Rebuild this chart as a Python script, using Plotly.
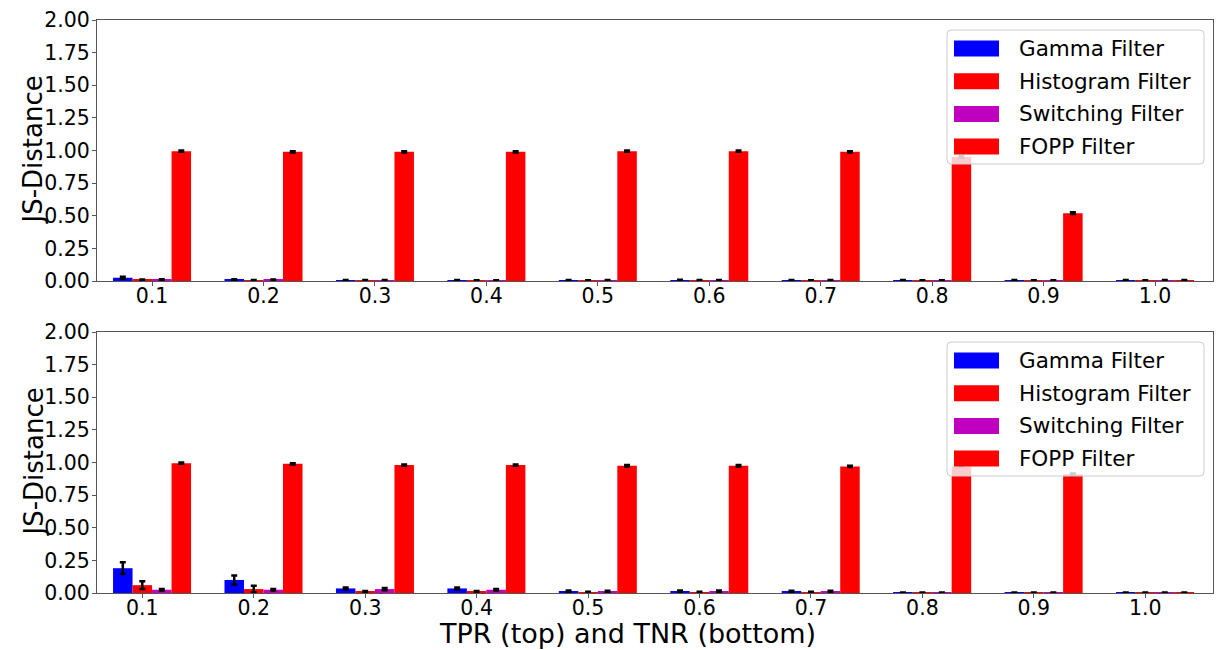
import plotly.graph_objects as go

# ---------------- data ----------------
rates = ["0.1", "0.2", "0.3", "0.4", "0.5", "0.6", "0.7", "0.8", "0.9", "1.0"]
series_names = ["Gamma Filter", "Histogram Filter", "Switching Filter", "FOPP Filter"]
series_colors = ["#0000ff", "#ff0000", "#bf00bf", "#ff0000"]

# top panel (TPR)
gamma_top = [0.025, 0.010, 0.005, 0.005, 0.005, 0.007, 0.005, 0.005, 0.005, 0.004]
gamma_top_err = [0.008, 0.004, 0.003, 0.003, 0.003, 0.003, 0.003, 0.003, 0.003, 0.003]
hist_top = [0.008, 0.005, 0.004, 0.003, 0.003, 0.004, 0.003, 0.003, 0.003, 0.003]
hist_top_err = [0.004, 0.003, 0.003, 0.003, 0.003, 0.003, 0.003, 0.003, 0.003, 0.003]
switch_top = [0.010, 0.008, 0.004, 0.003, 0.004, 0.005, 0.004, 0.003, 0.003, 0.004]
switch_top_err = [0.004, 0.004, 0.003, 0.003, 0.003, 0.003, 0.003, 0.003, 0.003, 0.003]
fopp_top = [0.995, 0.990, 0.990, 0.990, 0.995, 0.995, 0.990, 0.950, 0.520, 0.005]
fopp_top_err = [0.005, 0.005, 0.005, 0.005, 0.005, 0.005, 0.005, 0.005, 0.006, 0.003]

# bottom panel (TNR)
gamma_bot = [0.190, 0.100, 0.035, 0.035, 0.015, 0.015, 0.012, 0.002, 0.002, 0.002]
gamma_bot_err = [0.045, 0.035, 0.008, 0.008, 0.005, 0.005, 0.005, 0.002, 0.002, 0.002]
hist_bot = [0.060, 0.030, 0.010, 0.010, 0.005, 0.005, 0.005, 0.002, 0.002, 0.002]
hist_bot_err = [0.030, 0.025, 0.005, 0.005, 0.004, 0.004, 0.004, 0.002, 0.002, 0.002]
switch_bot = [0.025, 0.025, 0.030, 0.025, 0.012, 0.015, 0.012, 0.002, 0.002, 0.002]
switch_bot_err = [0.006, 0.006, 0.008, 0.006, 0.005, 0.005, 0.005, 0.002, 0.002, 0.002]
fopp_bot = [0.995, 0.990, 0.980, 0.980, 0.975, 0.975, 0.970, 0.970, 0.910, 0.002]
fopp_bot_err = [0.005, 0.005, 0.005, 0.005, 0.005, 0.005, 0.005, 0.005, 0.006, 0.002]

y_ticks = [0.0, 0.25, 0.5, 0.75, 1.0, 1.25, 1.5, 1.75, 2.0]
x_title = "TPR (top) and TNR (bottom)"
y_title = "JS-Distance"

# ---------------- figure ----------------
W, H = 1216, 650
FONT = "DejaVu Sans"
positions = list(range(len(rates)))

fig = go.Figure()
top_sets = [(gamma_top, gamma_top_err), (hist_top, hist_top_err),
            (switch_top, switch_top_err), (fopp_top, fopp_top_err)]
bot_sets = [(gamma_bot, gamma_bot_err), (hist_bot, hist_bot_err),
            (switch_bot, switch_bot_err), (fopp_bot, fopp_bot_err)]

for axis_id, sets in (("", top_sets), ("2", bot_sets)):
    for name, color, (vals, errs) in zip(series_names, series_colors, sets):
        fig.add_trace(go.Bar(
            x=positions, y=vals, name=name, showlegend=False,
            marker=dict(color=color, line=dict(width=0)),
            error_y=dict(type="data", array=errs, visible=True,
                         color="black", thickness=2.5, width=3),
            xaxis="x" + axis_id, yaxis="y" + axis_id,
        ))

bar_w = 0.7 / 4
xrange = [-0.494, 9.52]
xdom = [97 / W, 1213 / W]

def px_y(p):
    return 1 - p / H

axis_common = dict(showline=True, mirror=True, linecolor="#555", linewidth=1,
                   ticks="outside", ticklen=4, tickcolor="#555",
                   showgrid=False, zeroline=False, automargin=False,
                   tickfont=dict(family=FONT, size=20.5, color="black"))
x_common = dict(axis_common, ticklabelstandoff=-8)
y_common = dict(axis_common, ticklabelstandoff=-2)

fig.update_layout(
    width=W, height=H, margin=dict(l=0, r=0, t=0, b=0, autoexpand=False),
    paper_bgcolor="white", plot_bgcolor="white",
    barmode="group", bargap=0.3, bargroupgap=0,
    font=dict(family=FONT, color="black"),
    xaxis=dict(domain=xdom, range=xrange, anchor="y",
               tickvals=positions, ticktext=rates, **x_common),
    yaxis=dict(domain=[px_y(281), px_y(20)], range=[0, 2], anchor="x",
               tickvals=y_ticks, ticktext=[f"{v:.2f}" for v in y_ticks], **y_common),
    xaxis2=dict(domain=xdom, range=xrange, anchor="y2",
                tickvals=[p - bar_w / 2 for p in positions], ticktext=rates, **x_common),
    yaxis2=dict(domain=[px_y(593), px_y(332)], range=[0, 2], anchor="x2",
                tickvals=y_ticks, ticktext=[f"{v:.2f}" for v in y_ticks], **y_common),
)

# axis titles
annotations = [
    dict(text=y_title, x=33 / W, y=px_y(150.5), xref="paper", yref="paper",
         xanchor="center", yanchor="middle", textangle=-90, showarrow=False,
         font=dict(family=FONT, size=26, color="black")),
    dict(text=y_title, x=33 / W, y=px_y(462.5), xref="paper", yref="paper",
         xanchor="center", yanchor="middle", textangle=-90, showarrow=False,
         font=dict(family=FONT, size=26, color="black")),
    dict(text=x_title, x=627 / W, y=px_y(633), xref="paper", yref="paper",
         xanchor="center", yanchor="middle", showarrow=False,
         font=dict(family=FONT, size=27, color="black")),
]

# custom legends (matplotlib style)
shapes = []

def rounded_rect(x0, y0, x1, y1, r=4):
    # pixel coords (y down) -> paper path
    X = lambda v: v / W
    Y = lambda v: 1 - v / H
    return (f"M {X(x0 + r)},{Y(y0)} L {X(x1 - r)},{Y(y0)} Q {X(x1)},{Y(y0)} {X(x1)},{Y(y0 + r)} "
            f"L {X(x1)},{Y(y1 - r)} Q {X(x1)},{Y(y1)} {X(x1 - r)},{Y(y1)} "
            f"L {X(x0 + r)},{Y(y1)} Q {X(x0)},{Y(y1)} {X(x0)},{Y(y1 - r)} "
            f"L {X(x0)},{Y(y0 + r)} Q {X(x0)},{Y(y0)} {X(x0 + r)},{Y(y0)} Z")

for offset in (0, 312):
    shapes.append(dict(type="path", xref="paper", yref="paper",
                       path=rounded_rect(947, 30 + offset, 1204, 164 + offset),
                       fillcolor="rgba(255,255,255,0.8)",
                       line=dict(color="#cccccc", width=1), layer="above"))
    for k, (name, color) in enumerate(zip(series_names, series_colors)):
        cy = 48.5 + k * 32.7 + offset
        shapes.append(dict(type="rect", xref="paper", yref="paper",
                           x0=954 / W, x1=999 / W, y0=px_y(cy + 8), y1=px_y(cy - 8),
                           fillcolor=color, line=dict(width=0), layer="above"))
        annotations.append(dict(text=name, x=1017 / W, y=px_y(cy), xref="paper", yref="paper",
                                xanchor="left", yanchor="middle", showarrow=False,
                                font=dict(family=FONT, size=21.5, color="black")))

fig.update_layout(annotations=annotations, shapes=shapes)
fig.write_html("out.html")
